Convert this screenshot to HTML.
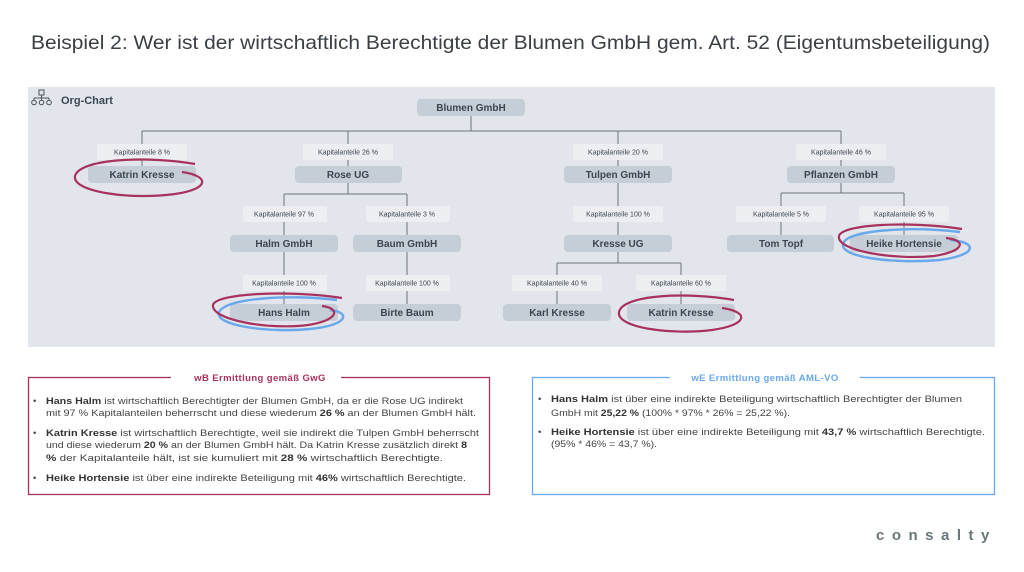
<!DOCTYPE html>
<html><head><meta charset="utf-8"><style>
html,body{margin:0;padding:0;background:#fff;}
svg{display:block;font-family:"Liberation Sans",sans-serif;}
.nb{fill:#c5ced6;}
.nt{font-size:10px;font-weight:bold;fill:#3c4650;text-anchor:middle;}
.lb{fill:#eceef2;}
.lt{font-size:7px;fill:#3c4650;text-anchor:middle;}
.ln{stroke:#6e747a;stroke-width:1;fill:none;}
.red{stroke:#a8325e;stroke-width:2.2;fill:none;}
.blue{stroke:#6aa8ec;stroke-width:2.4;fill:none;}
.bt{font-size:9.5px;fill:#444;}
.bt tspan.b{font-weight:bold;fill:#333;}
</style></head><body>
<svg width="1024" height="572" viewBox="0 0 1024 572" xmlns="http://www.w3.org/2000/svg">
<rect width="1024" height="572" fill="#fff"/>
<text x="31" y="49" font-size="19.5" fill="#3a3f45" textLength="959" lengthAdjust="spacingAndGlyphs">Beispiel 2: Wer ist der wirtschaftlich Berechtigte der Blumen GmbH gem. Art. 52 (Eigentumsbeteiligung)</text>

<rect x="28" y="87" width="967" height="260" fill="#e2e6ec"/>
<g stroke="#4a525a" stroke-width="1" fill="none">
<rect x="39" y="90" width="5" height="5"/>
<path d="M41.5 95 V98 M34 98 H49 M34 98 V100 M41.5 98 V100 M49 98 V100"/>
<circle cx="34" cy="102.5" r="2.3"/><circle cx="41.5" cy="102.5" r="2.3"/><circle cx="49" cy="102.5" r="2.3"/>
</g>
<text x="61" y="104" font-size="11" font-weight="bold" fill="#3c4650">Org-Chart</text>

<path class="ln" d="M471 116 V131 M142 131 H841 M142 131 V166 M348 131 V166 M618 131 V166 M841 131 V166"/>
<path class="ln" d="M348 183 V194 M284 194 H407 M284 194 V235 M407 194 V235 M284 252 V304 M407 252 V304"/>
<path class="ln" d="M618 183 V235 M618 252 V263 M557 263 H681 M557 263 V304 M681 263 V304"/>
<path class="ln" d="M841 183 V193 M781 193 H904 M781 193 V235 M904 193 V235"/>

<g>
<rect class="lb" x="97" y="144" width="90" height="16"/><text class="lt" x="142" y="154.5">Kapitalanteile 8 %</text>
<rect class="lb" x="303" y="144" width="90" height="16"/><text class="lt" x="348" y="154.5">Kapitalanteile 26 %</text>
<rect class="lb" x="573" y="144" width="90" height="16"/><text class="lt" x="618" y="154.5">Kapitalanteile 20 %</text>
<rect class="lb" x="796" y="144" width="90" height="16"/><text class="lt" x="841" y="154.5">Kapitalanteile 46 %</text>
<rect class="lb" x="243" y="206" width="84" height="16"/><text class="lt" x="284" y="216.5">Kapitalanteile 97 %</text>
<rect class="lb" x="366" y="206" width="84" height="16"/><text class="lt" x="407" y="216.5">Kapitalanteile 3 %</text>
<rect class="lb" x="573" y="206" width="90" height="16"/><text class="lt" x="618" y="216.5">Kapitalanteile 100 %</text>
<rect class="lb" x="736" y="206" width="90" height="16"/><text class="lt" x="781" y="216.5">Kapitalanteile 5 %</text>
<rect class="lb" x="859" y="206" width="90" height="16"/><text class="lt" x="904" y="216.5">Kapitalanteile 95 %</text>
<rect class="lb" x="243" y="275" width="84" height="16"/><text class="lt" x="284" y="285.5">Kapitalanteile 100 %</text>
<rect class="lb" x="366" y="275" width="84" height="16"/><text class="lt" x="407" y="285.5">Kapitalanteile 100 %</text>
<rect class="lb" x="512" y="275" width="90" height="16"/><text class="lt" x="557" y="285.5">Kapitalanteile 40 %</text>
<rect class="lb" x="636" y="275" width="90" height="16"/><text class="lt" x="681" y="285.5">Kapitalanteile 60 %</text>
</g>

<g>
<rect class="nb" x="417" y="99" width="108" height="17" rx="4"/><text class="nt" x="471" y="111">Blumen GmbH</text>
<rect class="nb" x="88" y="166" width="108" height="17" rx="4"/><text class="nt" x="142" y="178">Katrin Kresse</text>
<rect class="nb" x="295" y="166" width="107" height="17" rx="4"/><text class="nt" x="348" y="178">Rose UG</text>
<rect class="nb" x="564" y="166" width="108" height="17" rx="4"/><text class="nt" x="618" y="178">Tulpen GmbH</text>
<rect class="nb" x="787" y="166" width="108" height="17" rx="4"/><text class="nt" x="841" y="178">Pflanzen GmbH</text>
<rect class="nb" x="230" y="235" width="108" height="17" rx="4"/><text class="nt" x="284" y="247">Halm GmbH</text>
<rect class="nb" x="353" y="235" width="108" height="17" rx="4"/><text class="nt" x="407" y="247">Baum GmbH</text>
<rect class="nb" x="564" y="235" width="108" height="17" rx="4"/><text class="nt" x="618" y="247">Kresse UG</text>
<rect class="nb" x="727" y="235" width="107" height="17" rx="4"/><text class="nt" x="781" y="247">Tom Topf</text>
<rect class="nb" x="850" y="235" width="108" height="17" rx="4"/><text class="nt" x="904" y="247">Heike Hortensie</text>
<rect class="nb" x="230" y="304" width="108" height="17" rx="4"/><text class="nt" x="284" y="316">Hans Halm</text>
<rect class="nb" x="353" y="304" width="108" height="17" rx="4"/><text class="nt" x="407" y="316">Birte Baum</text>
<rect class="nb" x="503" y="304" width="108" height="17" rx="4"/><text class="nt" x="557" y="316">Karl Kresse</text>
<rect class="nb" x="627" y="304" width="108" height="17" rx="4"/><text class="nt" x="681" y="316">Katrin Kresse</text>
</g>

<path class="red" d="M195 164 C150 156 80 158 75 176 C72 192 130 200 175 194 C210 189 210 176 182 172"/>
<path class="red" d="M734 300 C690 292 623 294 619 312 C616 328 672 335 712 330 C748 325 750 312 722 308"/>
<path class="blue" d="M337 300 C290 294 226 298 219 312 C214 326 270 333 310 329 C350 325 350 312 330 310"/>
<path class="red" d="M342 298 C290 290 216 293 213 305 C211 320 268 330 308 325 C340 320 340 308 322 306"/>
<path class="blue" d="M960 232 C910 226 846 230 843 244 C840 258 898 264 940 260 C978 255 978 242 950 240"/>
<path class="red" d="M962 229 C910 221 842 224 839 236 C836 251 894 260 934 256 C966 251 966 240 946 238"/>

<rect x="28.5" y="377.5" width="461" height="117" fill="#fff" stroke="#a8325e" stroke-width="1.3"/>
<rect x="171" y="372" width="170" height="10" fill="#fff"/>
<text x="260" y="381" font-size="9.5" font-weight="bold" fill="#a8325e" text-anchor="middle" letter-spacing="0.4">wB Ermittlung gemäß GwG</text>
<g class="bt">
<text x="33" y="404">•</text>
<text x="46" y="404" textLength="417" lengthAdjust="spacingAndGlyphs"><tspan class="b">Hans Halm</tspan> ist wirtschaftlich Berechtigter der Blumen GmbH, da er die Rose UG indirekt</text>
<text x="46" y="416" textLength="430" lengthAdjust="spacingAndGlyphs">mit 97 % Kapitalanteilen beherrscht und diese wiederum <tspan class="b">26 %</tspan> an der Blumen GmbH hält.</text>
<text x="33" y="436">•</text>
<text x="46" y="436" textLength="433" lengthAdjust="spacingAndGlyphs"><tspan class="b">Katrin Kresse</tspan> ist wirtschaftlich Berechtigte, weil sie indirekt die Tulpen GmbH beherrscht</text>
<text x="46" y="448" textLength="421" lengthAdjust="spacingAndGlyphs">und diese wiederum <tspan class="b">20 %</tspan> an der Blumen GmbH hält. Da Katrin Kresse zusätzlich direkt <tspan class="b">8</tspan></text>
<text x="46" y="461" textLength="397" lengthAdjust="spacingAndGlyphs"><tspan class="b">%</tspan> der Kapitalanteile hält, ist sie kumuliert mit <tspan class="b">28 %</tspan> wirtschaftlich Berechtigte.</text>
<text x="33" y="481">•</text>
<text x="46" y="481" textLength="420" lengthAdjust="spacingAndGlyphs"><tspan class="b">Heike Hortensie</tspan> ist über eine indirekte Beteiligung mit <tspan class="b">46%</tspan> wirtschaftlich Berechtigte.</text>
</g>

<rect x="532.5" y="377.5" width="462" height="117" fill="#fff" stroke="#6aa8ec" stroke-width="1.3"/>
<rect x="670" y="372" width="190" height="10" fill="#fff"/>
<text x="765" y="381" font-size="9.5" font-weight="bold" fill="#6aa8ec" text-anchor="middle" letter-spacing="0.4">wE Ermittlung gemäß AML-VO</text>
<g class="bt">
<text x="538" y="402">•</text>
<text x="551" y="402" textLength="411" lengthAdjust="spacingAndGlyphs"><tspan class="b">Hans Halm</tspan> ist über eine indirekte Beteiligung wirtschaftlich Berechtigter der Blumen</text>
<text x="551" y="416" textLength="239" lengthAdjust="spacingAndGlyphs">GmbH mit <tspan class="b">25,22 %</tspan> (100% * 97% * 26% = 25,22 %).</text>
<text x="538" y="435">•</text>
<text x="551" y="435" textLength="434" lengthAdjust="spacingAndGlyphs"><tspan class="b">Heike Hortensie</tspan> ist über eine indirekte Beteiligung mit <tspan class="b">43,7 %</tspan> wirtschaftlich Berechtigte.</text>
<text x="551" y="447" textLength="106" lengthAdjust="spacingAndGlyphs">(95% * 46% = 43,7 %).</text>
</g>

<text x="876" y="540" font-size="15" font-weight="bold" fill="#6b767c" letter-spacing="7.5">consalty</text>
</svg>
</body></html>
